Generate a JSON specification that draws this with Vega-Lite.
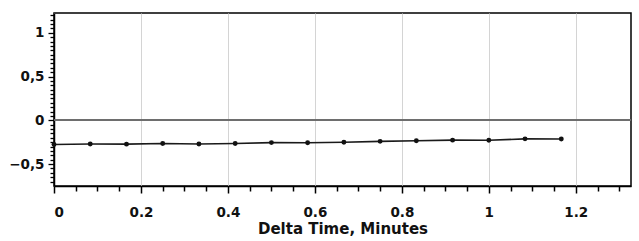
{
  "$schema": "https://vega.github.io/schema/vega-lite/v6.json",
  "width": 577,
  "height": 173,
  "autosize": "none",
  "padding": {"left": 54, "top": 13, "right": 8, "bottom": 55},
  "background": "white",
  "config": {
    "view": {"stroke": "black", "strokeWidth": 1.5},
    "font": "DejaVu Sans"
  },
  "data": {
    "values": [
      {"t": 0.0, "v": -0.275},
      {"t": 0.0833, "v": -0.27},
      {"t": 0.1667, "v": -0.272},
      {"t": 0.25, "v": -0.264},
      {"t": 0.3333, "v": -0.27},
      {"t": 0.4167, "v": -0.264},
      {"t": 0.5, "v": -0.254},
      {"t": 0.5833, "v": -0.255},
      {"t": 0.6667, "v": -0.25},
      {"t": 0.75, "v": -0.24},
      {"t": 0.8333, "v": -0.233},
      {"t": 0.9167, "v": -0.226},
      {"t": 1.0, "v": -0.228},
      {"t": 1.0833, "v": -0.211},
      {"t": 1.1667, "v": -0.213}
    ]
  },
  "encoding": {
    "x": {
      "field": "t", "type": "quantitative",
      "scale": {"domain": [0, 1.327], "nice": false, "zero": false},
      "axis": {
        "title": "Delta Time, Minutes",
        "titleFont": "DejaVu Sans", "titleFontSize": 15, "titleFontWeight": "bold", "titleColor": "#111",
        "titlePadding": 3,
        "values": [0,0.05,0.1,0.15,0.2,0.25,0.3,0.35,0.4,0.45,0.5,0.55,0.6,0.65,0.7,0.75,0.8,0.85,0.9,0.95,1,1.05,1.1,1.15,1.2,1.25,1.3],
        "labelExpr": "abs(datum.value*5 - round(datum.value*5)) < 0.001 ? format(datum.value, '~g') : ''",
        "labelFont": "DejaVu Sans", "labelFontSize": 13.5, "labelFontWeight": "bold", "labelColor": "#111",
        "labelPadding": 12,
        "ticks": true,
        "domainColor": "black", "domainWidth": 1.5,
        "tickColor": "black",
        "tickWidth": 1.5,
        "tickSize": {"condition": {"test": "abs(datum.value*5 - round(datum.value*5)) < 0.001", "value": 7}, "value": 5},
        "grid": true,
        "gridColor": "#d4d4d4",
        "gridOpacity": {"condition": {"test": "abs(datum.value*5 - round(datum.value*5)) < 0.001", "value": 1}, "value": 0},
        "labelOverlap": false
      }
    },
    "y": {
      "field": "v", "type": "quantitative",
      "scale": {"domain": [-0.75, 1.227], "nice": false, "zero": false},
      "axis": {
        "title": null,
        "values": [-0.7,-0.65,-0.6,-0.55,-0.5,-0.45,-0.4,-0.35,-0.3,-0.25,-0.2,-0.15,-0.1,-0.05,0,0.05,0.1,0.15,0.2,0.25,0.3,0.35,0.4,0.45,0.5,0.55,0.6,0.65,0.7,0.75,0.8,0.85,0.9,0.95,1,1.05,1.1,1.15,1.2],
        "labelExpr": "abs(datum.value*2 - round(datum.value*2)) < 0.001 ? replace(format(datum.value, '~g'), '.', ',') : ''",
        "labelFont": "DejaVu Sans", "labelFontSize": 13.5, "labelFontWeight": "bold", "labelColor": "#111",
        "labelPadding": 4,
        "ticks": true,
        "domainColor": "black", "domainWidth": 1.5,
        "tickColor": "black", "tickWidth": 1.3,
        "tickSize": {"condition": {"test": "abs(datum.value*2 - round(datum.value*2)) < 0.001", "value": 6}, "value": 4},
        "grid": false,
        "labelOverlap": false
      }
    }
  },
  "layer": [
    {
      "mark": {"type": "rule", "color": "#6e6e6e", "strokeWidth": 1.5},
      "encoding": {"y": {"datum": 0}, "x": {"value": 0}, "x2": {"value": 577}}
    },
    {
      "mark": {"type": "line", "color": "#1a1a1a", "strokeWidth": 1.6}
    },
    {
      "mark": {"type": "point", "filled": true, "color": "#111", "size": 24, "opacity": 1}
    }
  ]
}
